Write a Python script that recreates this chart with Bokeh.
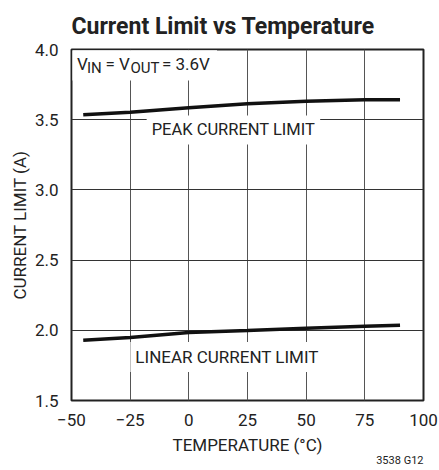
from bokeh.plotting import figure
from bokeh.models import Label, BoxAnnotation, FixedTicker, Range1d, Title
from bokeh.embed import file_html
from bokeh.resources import INLINE

# ---- data ----
temp = [-45, -25, 0, 25, 50, 75, 90]
peak_limit = [3.535, 3.553, 3.585, 3.613, 3.632, 3.642, 3.642]
linear_limit = [1.929, 1.949, 1.984, 1.998, 2.015, 2.029, 2.036]

x_ticks = [-50, -25, 0, 25, 50, 75, 100]
x_tick_labels = ["\u221250", "\u221225", "0", "25", "50", "75", "100"]
y_ticks = [1.5, 2.0, 2.5, 3.0, 3.5, 4.0]
y_tick_labels = ["1.5", "2.0", "2.5", "3.0", "3.5", "4.0"]

FONT = "Roboto"
INK = "#222222"

p = figure(frame_width=352, frame_height=351, output_backend="svg", toolbar_location=None,
           x_range=Range1d(-50, 100), y_range=Range1d(1.5, 4.0),
           min_border_left=71, min_border_right=16, min_border_top=49, min_border_bottom=70)
p.title = Title(text="Current Limit vs Temperature", align="left", offset=0,
                text_font=FONT, text_font_size="23px", text_font_style="bold",
                text_color=INK, standoff=20)

p.line(temp, peak_limit, line_width=3.5, line_color="#111111")
p.line(temp, linear_limit, line_width=3.5, line_color="#111111")

for ax in (p.xaxis[0], p.yaxis[0]):
    ax.axis_line_color = None
    ax.major_tick_line_color = None
    ax.minor_tick_line_color = None
    ax.major_tick_out = 0
    ax.major_tick_in = 0
    ax.minor_tick_out = 0
    ax.minor_tick_in = 0
    ax.major_label_text_font = FONT
    ax.major_label_text_font_size = "17px"
    ax.major_label_text_color = INK
    ax.axis_label_text_font = FONT
    ax.axis_label_text_font_size = "17px"
    ax.axis_label_text_font_style = "normal"
    ax.axis_label_text_color = INK

p.xaxis.ticker = FixedTicker(ticks=x_ticks)
p.yaxis.ticker = FixedTicker(ticks=y_ticks)
p.xaxis.major_label_overrides = dict(zip(x_ticks, x_tick_labels))
p.yaxis.major_label_overrides = dict(zip(y_ticks, y_tick_labels))
p.xaxis.axis_label = "TEMPERATURE (\u00b0C)"
p.yaxis.axis_label = "CURRENT LIMIT (A)"
p.xaxis.major_label_standoff = 13
p.yaxis.major_label_standoff = 13
p.xaxis.axis_label_standoff = 6
p.yaxis.axis_label_standoff = 2

p.xgrid.grid_line_color = "#555555"
p.ygrid.grid_line_color = "#333333"
p.xgrid.grid_line_width = 1
p.ygrid.grid_line_width = 1

p.outline_line_color = "#222222"
p.outline_line_width = 2
p.background_fill_color = "white"
p.border_fill_color = "white"

# figure code below the x axis
p.add_layout(Title(text="3538 G12", align="right", offset=0, vertical_align="top",
                   text_font=FONT, text_font_size="11px", text_font_style="normal",
                   text_color=INK, standoff=-7), "below")

# white box behind the condition text
p.add_layout(BoxAnnotation(left=-49.6, right=12, top=3.995, bottom=3.779,
                           fill_color="white", fill_alpha=1.0, line_color=None))

def lab(x, y, text, size="17px", dx=0, dy=0, align="left", bg=None, pad=0):
    kw = {}
    if bg:
        kw = dict(background_fill_color=bg, background_fill_alpha=1.0, padding=pad)
    p.add_layout(Label(x=x, y=y, text=text, x_offset=dx, y_offset=dy,
                       text_font=FONT, text_font_size=size, text_color=INK,
                       text_align=align, text_baseline="middle", **kw))

# V_IN = V_OUT = 3.6V
vx, vy = -47.7, 3.897
lab(vx, vy, "V", dx=0)
lab(vx, vy, "IN", size="15px", dx=10, dy=-4)
lab(vx, vy, "= V", dx=28.5)
lab(vx, vy, "OUT", size="15px", dx=53.5, dy=-4)
lab(vx, vy, "= 3.6V", dx=85)

lab(19.0, 3.427, "PEAK CURRENT LIMIT", size="16.5px", align="center", bg="white", pad=5)
lab(16.3, 1.81, "LINEAR CURRENT LIMIT", size="17px", align="center", bg="white", pad=5)

html = file_html(p, INLINE)
html = html.replace("<body>", '<body style="overflow:hidden">', 1)
open("out.html", "w").write(html)
